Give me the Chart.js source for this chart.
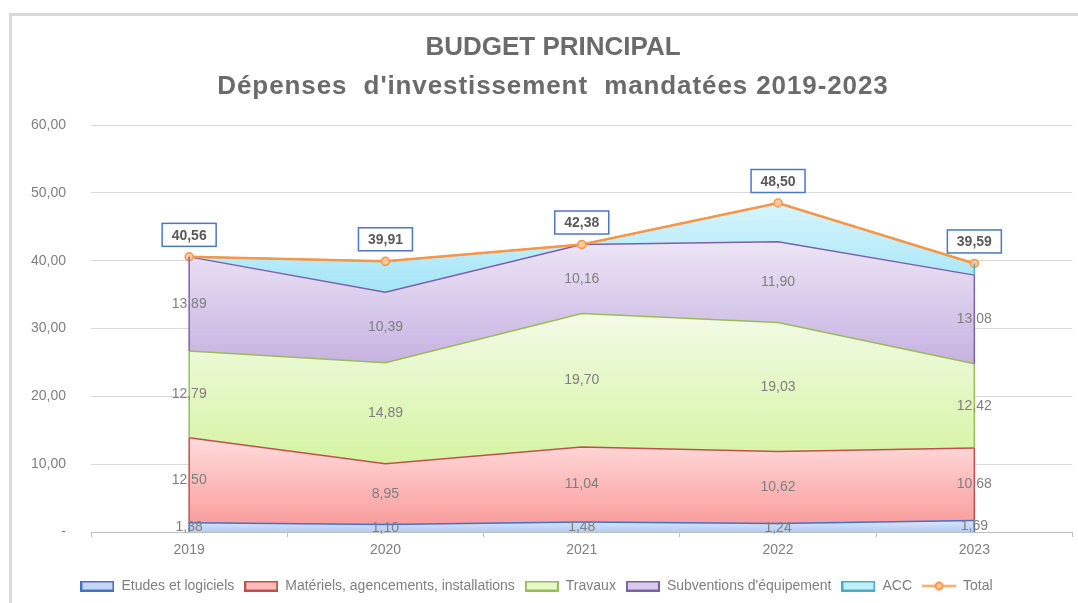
<!DOCTYPE html>
<html>
<head>
<meta charset="utf-8">
<script src="https://cdn.jsdelivr.net/npm/chart.js@4.4.1/dist/chart.umd.min.js"></script>
<style>
  html, body { margin: 0; padding: 0; background: #fff; }
  #wrap { position: relative; width: 1078px; height: 603px; overflow: hidden; }
  #frame { position: absolute; left: 9px; top: 13px; width: 1200px; height: 800px;
           border-top: 3px solid #d9d9d9; border-left: 3px solid #d9d9d9; }
  canvas { position: absolute; left: 0; top: 0; }
</style>
</head>
<body>
<div id="wrap">
  <div id="frame"></div>
  <canvas id="budgetChart" width="1078" height="603"></canvas>
</div>
<script>
// données (M€)
const years = ['2019', '2020', '2021', '2022', '2023'];
const etudes = [1.38, 1.10, 1.48, 1.24, 1.69];
const materiels = [12.50, 8.95, 11.04, 10.62, 10.68];
const travaux = [12.79, 14.89, 19.70, 19.03, 12.42];
const subventions = [13.89, 10.39, 10.16, 11.90, 13.08];
const acc = [0.00, 4.58, 0.00, 5.71, 1.72];
const total = [40.56, 39.91, 42.38, 48.50, 39.59];
const yMin = 0, yMax = 60, yStep = 10;

const bands = [etudes, materiels, travaux, subventions, acc];
const names = ['Etudes et logiciels', 'Matériels, agencements, installations', 'Travaux',
               "Subventions d'équipement", 'ACC'];
const borders = ['#4472c4', '#c0504d', '#9bbb59', '#7f60a8', '#4bacc6'];
const topCols = ['#dbe6fb', '#ffdcdc', '#f3fbe6', '#ede5f6', '#d6f5fc'];
const botCols = ['#b4ccf4', '#fa9d9d', '#d5f4a2', '#c6b2e1', '#a3e5f7'];
const legendCols = ['#c5d7f7', '#fbbcbc', '#e6f8c8', '#d8cbec', '#c2eef9'];
const grey = '#7f7f7f';

// cumul pour les aires empilées
const cum = [];
bands.forEach((b, k) => cum.push(b.map((v, j) => v + (k ? cum[k - 1][j] : 0))));

function fmt(v) { return v.toFixed(2).replace('.', ','); }

function bandFill(k) {
    return function(c) {
        const ch = c.chart;
        if (!ch.chartArea || !ch.scales.y) return botCols[k];
        const y = ch.scales.y;
        const lower = k ? cum[k - 1] : years.map(() => 0);
        const yTop = y.getPixelForValue(Math.max(...cum[k]));
        const yBot = y.getPixelForValue(Math.min(...lower));
        const g = ch.ctx.createLinearGradient(0, yTop, 0, yBot);
        g.addColorStop(0, topCols[k]);
        g.addColorStop(1, botCols[k]);
        return g;
    };
}

function boxImg(fill, stroke) {
    const cv = document.createElement('canvas');
    cv.width = 34; cv.height = 11;
    const g = cv.getContext('2d');
    g.fillStyle = fill; g.fillRect(1, 1, 32, 9);
    g.strokeStyle = stroke; g.lineWidth = 2; g.strokeRect(1, 1, 32, 9);
    return cv;
}
function lineImg() {
    const cv = document.createElement('canvas');
    cv.width = 34; cv.height = 11;
    const g = cv.getContext('2d');
    g.strokeStyle = '#f79646'; g.lineWidth = 2;
    g.beginPath(); g.moveTo(0, 5.5); g.lineTo(34, 5.5); g.stroke();
    g.fillStyle = '#fbc99f'; g.beginPath(); g.arc(17, 5.5, 3.5, 0, Math.PI * 2); g.fill(); g.stroke();
    return cv;
}

const datasets = bands.map((b, k) => ({
    label: names[k],
    data: b,
    stack: 'main',
    order: 1,
    fill: k ? '-1' : 'origin',
    backgroundColor: bandFill(k),
    borderColor: borders[k],
    borderWidth: 1.5,
    pointRadius: 0,
    tension: 0
}));
datasets.push({
    label: 'Total',
    data: total,
    stack: 'total',
    order: 0,
    fill: false,
    borderColor: '#f79646',
    borderWidth: 2.5,
    pointRadius: 4,
    pointBorderWidth: 1.5,
    pointBackgroundColor: '#fbc99f',
    pointBorderColor: '#f79646',
    tension: 0
});

// titre + étiquettes
const labelsPlugin = {
    id: 'labels',
    beforeDraw(chart) {
        const ctx = chart.ctx;
        ctx.save();
        ctx.fillStyle = '#6b6b6b';
        ctx.font = 'bold 26px "Liberation Sans", Arial, sans-serif';
        ctx.textAlign = 'center';
        ctx.textBaseline = 'middle';
        ctx.fillText('BUDGET PRINCIPAL', 553, 48);
        ctx.letterSpacing = '0.9px';
        ctx.fillText("Dépenses  d'investissement  mandatées 2019-2023", 553, 87);
        ctx.restore();
    },
    afterDatasetsDraw(chart) {
        const ctx = chart.ctx;
        const y = chart.scales.y;
        ctx.save();
        // bords verticaux des aires aux extrémités
        ctx.lineWidth = 1.5;
        for (let k = 0; k < bands.length; k++) {
            const meta = chart.getDatasetMeta(k);
            [0, years.length - 1].forEach(j => {
                const x = meta.data[j].x;
                const lo = k ? cum[k - 1][j] : 0;
                ctx.strokeStyle = borders[k];
                ctx.beginPath();
                ctx.moveTo(x, y.getPixelForValue(lo));
                ctx.lineTo(x, y.getPixelForValue(cum[k][j]));
                ctx.stroke();
            });
        }
        // valeurs des séries (sauf ACC)
        ctx.font = '14px "Liberation Sans", Arial, sans-serif';
        ctx.fillStyle = grey;
        ctx.textAlign = 'center';
        ctx.textBaseline = 'middle';
        for (let k = 0; k < 4; k++) {
            const meta = chart.getDatasetMeta(k);
            bands[k].forEach((v, j) => {
                const lo = k ? cum[k - 1][j] : 0;
                const ym = (y.getPixelForValue(lo) + y.getPixelForValue(cum[k][j])) / 2;
                ctx.fillText(fmt(v), meta.data[j].x, ym);
            });
        }
        // total encadré
        const tm = chart.getDatasetMeta(bands.length);
        ctx.font = 'bold 14px "Liberation Sans", Arial, sans-serif';
        total.forEach((v, j) => {
            const p = tm.data[j];
            const cy = p.y - 22;
            const w = 54, h = 23;
            ctx.fillStyle = '#fff';
            ctx.fillRect(p.x - w / 2, cy - h / 2, w, h);
            ctx.strokeStyle = '#4a78c2';
            ctx.lineWidth = 1.5;
            ctx.strokeRect(p.x - w / 2, cy - h / 2, w, h);
            ctx.fillStyle = '#595959';
            ctx.fillText(fmt(v), p.x, cy + 1);
        });
        ctx.restore();
    }
};

new Chart(document.getElementById('budgetChart'), {
    type: 'line',
    data: { labels: years, datasets: datasets },
    options: {
        responsive: false,
        animation: false,
        layout: { padding: { top: 125, right: 5, left: 0, bottom: 0 } },
        scales: {
            x: {
                offset: true,
                grid: { display: true, offset: true, drawOnChartArea: false, drawTicks: true,
                        tickLength: 5, color: '#bfbfbf' },
                border: { display: true, color: '#bfbfbf', width: 1 },
                ticks: { color: grey, font: { size: 14, family: '"Liberation Sans", Arial' }, padding: 5 },
                afterFit(s) { s.height = 37; }
            },
            y: {
                stacked: true,
                min: yMin, max: yMax,
                border: { display: false },
                grid: { color: '#d9d9d9', drawTicks: false },
                ticks: {
                    stepSize: yStep,
                    color: grey,
                    padding: 25,
                    font: { size: 14, family: '"Liberation Sans", Arial' },
                    callback: v => v === 0 ? '-' : fmt(v)
                },
                afterFit(s) { s.width = 91; }
            }
        },
        plugins: {
            title: { display: false },
            tooltip: { enabled: false },
            legend: {
                position: 'bottom',
                labels: {
                    usePointStyle: true,
                    pointStyleWidth: 34,
                    boxHeight: 11,
                    padding: 10,
                    color: grey,
                    font: { size: 14, family: '"Liberation Sans", Arial' },
                    generateLabels() {
                        const items = names.map((n, k) => ({
                            text: n, pointStyle: boxImg(legendCols[k], borders[k]),
                            fillStyle: legendCols[k], strokeStyle: borders[k], lineWidth: 0,
                            hidden: false, datasetIndex: k, fontColor: grey
                        }));
                        items.push({ text: 'Total', pointStyle: lineImg(), fillStyle: '#f79646',
                                     strokeStyle: '#f79646', lineWidth: 0, hidden: false,
                                     datasetIndex: bands.length, fontColor: grey });
                        return items;
                    }
                }
            }
        }
    },
    plugins: [labelsPlugin]
});
</script>
</body>
</html>
